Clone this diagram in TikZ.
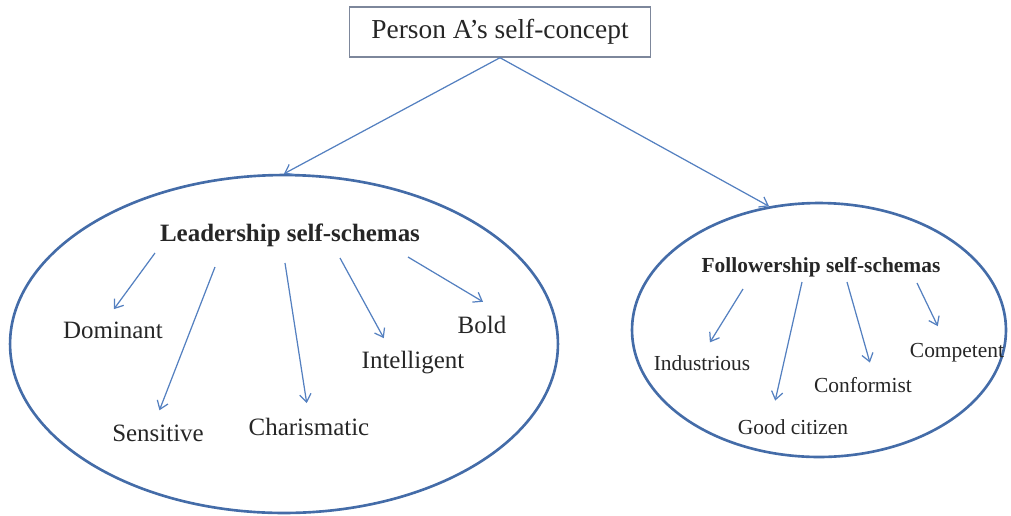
\documentclass[tikz,border=0pt]{standalone}
\usepackage{fontspec}
\setmainfont{Liberation Serif}
\usetikzlibrary{arrows.meta,shapes.geometric}

\definecolor{rimblue}{RGB}{68,108,168}
\definecolor{linkblue}{RGB}{84,128,192}
\definecolor{boxgray}{RGB}{125,135,155}

\tikzset{
  link/.style={draw=linkblue, line width=0.7pt,
    -{Straight Barb[length=4.5pt,width=6.5pt]}, shorten >=0.3cm},
  schema/.style={ellipse, draw=rimblue, line width=1.5pt, inner sep=0pt},
  trait/.style={inner sep=0pt, text=black!85, font=\fontsize{14.2}{16}\selectfont},
  ftrait/.style={inner sep=0pt, text=black!85, font=\fontsize{12.2}{14}\selectfont},
}

\begin{document}
\begin{tikzpicture}[x=0.02cm, y=-0.02cm]
\useasboundingbox (0,0) rectangle (1011,515);

% self-concept box
\node[draw=boxgray, line width=0.8pt, minimum width=6.02cm, minimum height=1cm,
  text=black!85, font=\fontsize{15.6}{18}\selectfont] (self) at (500,32)
  {Person A’s self-concept};

% the two schema ovals
\node[schema, minimum width=10.96cm, minimum height=6.76cm] (lead) at (284,344) {};
\node[schema, minimum width=7.48cm, minimum height=5.08cm] (follow) at (819,330) {};

\draw[link, shorten >=0pt] (self.south) -- (lead.north);
\draw[link, shorten >=0pt] (self.south) -- (follow.112);

% leadership
\node[trait] (lhead) at (290,235) {\textbf{Leadership self-schemas}};
\node[trait] (dom) at (113,330) {Dominant};
\node[trait] (sen) at (158,433) {Sensitive};
\node[trait] (cha) at (309,427) {Charismatic};
\node[trait] (int) at (413,363) {Intelligent};
\node[trait] (bold) at (482,325) {Bold};

\coordinate (l1) at (155,253);
\coordinate (l2) at (215,267);
\coordinate (l3) at (285,263);
\coordinate (l4) at (340,258);
\coordinate (l5) at (408,257);

\draw[link] (l1) -- ([xshift=-0.16cm]dom.north);
\draw[link] (l2) -- ([xshift=-0.08cm]sen.north);
\draw[link] (l3) -- (cha.north);
\draw[link] (l4) -- ([xshift=-0.44cm]int.north);
\draw[link, shorten >=0.55cm] (l5) -- (bold.north east);

% followership
\node[ftrait] (fhead) at (821,267) {\textbf{Followership self-schemas}};
\node[ftrait] (ind) at (702,363) {Industrious};
\node[ftrait] (good) at (793,427) {Good citizen};
\node[ftrait] (conf) at (863,385) {Conformist};
\node[ftrait] (comp) at (957,353) {Competent};

\coordinate (f1) at (743,289);
\coordinate (f2) at (802,282);
\coordinate (f3) at (847,282);
\coordinate (f4) at (917,283);

\draw[link] (f1) -- (ind.north);
\draw[link, shorten >=0.38cm] (f2) -- ([xshift=-0.44cm]good.north);
\draw[link] (f3) -- ([xshift=0.22cm]conf.north);
\draw[link, shorten >=0.38cm] (f4) -- ([xshift=-0.22cm]comp.north);
\end{tikzpicture}
\end{document}
